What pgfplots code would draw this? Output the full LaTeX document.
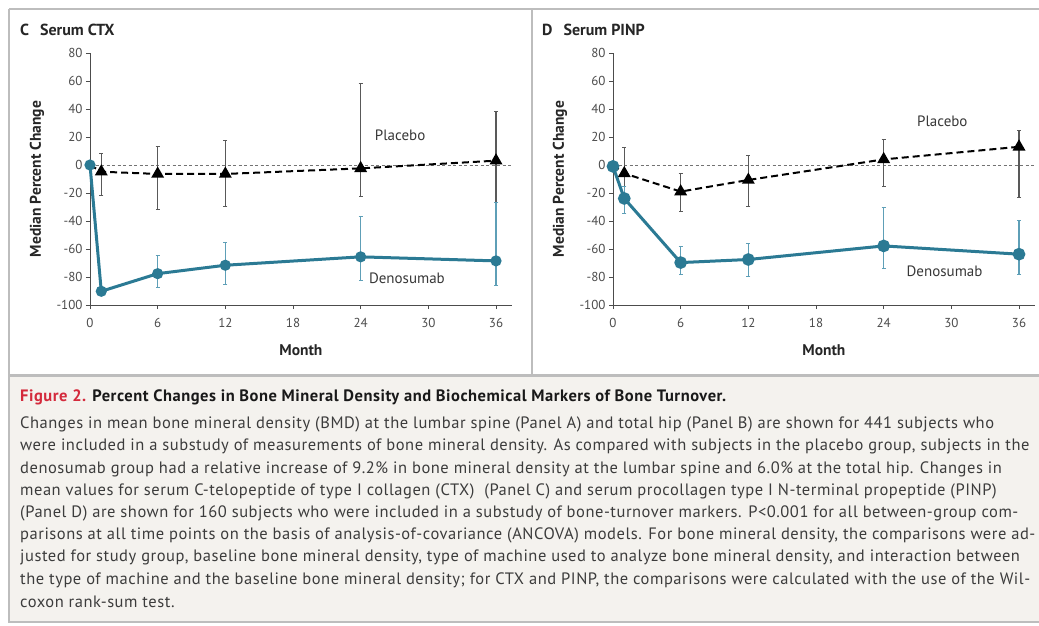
\documentclass[border=0pt]{standalone}
\usepackage{fontspec}
\setmainfont{PT Sans}
\newfontfamily\capfont[LetterSpace=3.2]{PT Sans}
\usepackage{pgfplots}
\pgfplotsset{compat=1.18}
\definecolor{denoc}{HTML}{2B7A94}
\definecolor{denoerr}{HTML}{5E9FB7}
\definecolor{framec}{HTML}{BDBDBD}
\definecolor{capbg}{HTML}{F4F2EE}
\definecolor{figred}{HTML}{D42A3C}
\definecolor{txt}{HTML}{3C3C3C}
\tikzset{lbl/.style={font=\fontsize{15}{15}\selectfont, text=black!78}}
\pgfplotsset{panel/.style={
  x=11.278pt, y=1.4pt, xmin=0, xmax=37.4, ymin=-100, ymax=80,
  anchor=south west, clip=false,
  axis x line*=bottom, axis y line*=left,
  axis line style={draw=black!70, line width=1pt},
  tick align=outside, major tick length=4pt,
  tick style={black!70, line width=0.8pt},
  xtick={0,6,...,36}, ytick={-100,-80,...,80},
  ticklabel style={font=\fontsize{13}{13}\selectfont, text=black!70},
  xticklabel style={yshift=-6pt},
  /pgf/number format/assume math mode=true,
  xlabel={Month}, ylabel={Median Percent Change},
  label style={font=\fontsize{15.5}{15.5}\selectfont\bfseries, text=black!85},
  xlabel style={at={([yshift=-45pt]axis description cs:0.5,0)}, anchor=center},
  ylabel style={at={([xshift=-53pt]axis description cs:0,0.5)}, anchor=center},
},
plac/.style={black, line width=2pt, dash pattern=on 7pt off 4pt,
  mark=triangle*, mark size=5.5pt, mark options={solid}, mark indices={2,3,4,5,6},
  error bars/y dir=both, error bars/y explicit,
  error bars/error bar style={black!65, line width=1.1pt, solid},
  error bars/error mark options={rotate=90, mark size=2pt, black!65, line width=0.8pt, solid}},
denos/.style={denoc, line width=3pt, mark=*, mark options={solid},
  error bars/y dir=both, error bars/y explicit,
  error bars/error bar style={denoerr, line width=1.3pt},
  error bars/error mark options={rotate=90, mark size=2pt, denoerr, line width=0.8pt}},
zl/.style={black!55, line width=0.7pt, dash pattern=on 3pt off 2.5pt}
}
\begin{document}
\begin{tikzpicture}
\useasboundingbox (0,0) rectangle (1039pt,-626pt);
\fill[white] (0,0) rectangle (1039pt,-626pt);
% caption box
\fill[capbg] (9pt,-375pt) rectangle (1039pt,-622pt);
\draw[framec, line width=3pt] (9pt,-375pt) -- (1039pt,-375pt);
\draw[framec, line width=2pt] (9pt,-622pt) -- (1039pt,-622pt);
% frame
\draw[framec, line width=2pt] (9pt,-9pt) -- (1039pt,-9pt);
\draw[framec, line width=2pt] (9pt,-9pt) -- (9pt,-623pt);
\draw[framec, line width=2pt] (532pt,-9pt) -- (532pt,-375pt);
% panel titles
\node[anchor=west, inner sep=0pt, font=\fontsize{16}{16}\selectfont\bfseries, text=black!85] at (20pt,-30pt) {C\hspace{11pt}Serum CTX};
\node[anchor=west, inner sep=0pt, font=\fontsize{16}{16}\selectfont\bfseries, text=black!85] at (542pt,-30pt) {D\hspace{11pt}Serum PINP};

% Panel C
\begin{axis}[panel, at={(90pt,-305pt)}]
\addplot[zl] coordinates {(0,0) (37.4,0)};
\addplot[plac] coordinates {
 (0,0) +- (0,0)
 (1,-4.8) += (0,13.2) -= (0,16.7)
 (6,-6.4) += (0,20) -= (0,25.3)
 (12,-6.4) += (0,24.3) -= (0,23.4)
 (24,-2.4) += (0,60.4) -= (0,20.3)
 (36,3.1) += (0,35.1) -= (0,30)
};
\addplot[denos, mark size=4pt] coordinates {
 (0,0) +- (0,0)
 (1,-90.2) += (0,1.5) -= (0,1.5)
 (6,-77.6) += (0,13.2) -= (0,10)
 (12,-71.6) += (0,16) -= (0,13.6)
 (24,-65.6) += (0,28.6) -= (0,16.7)
 (36,-68.5) += (0,41.5) -= (0,17.5)
};
\node[lbl] at (axis cs:27.5,21) {Placebo};
\node[lbl] at (axis cs:28.1,-81) {Denosumab};
\end{axis}

% Panel D
\begin{axis}[panel, at={(613pt,-305pt)}]
\addplot[zl] coordinates {(0,0) (37.4,0)};
\addplot[plac] coordinates {
 (0,0) +- (0,0)
 (1,-6) += (0,18.4) -= (0,9.5)
 (6,-19) += (0,13) -= (0,14.4)
 (12,-10.7) += (0,17.9) -= (0,19.1)
 (24,4) += (0,14.4) -= (0,19.5)
 (36,13) += (0,11.6) -= (0,36)
};
\addplot[denos, mark size=4.8pt] coordinates {
 (0,-1) +- (0,0)
 (1,-23.9) += (0,8.4) -= (0,10.7)
 (6,-69.7) += (0,11.9) -= (0,8.3)
 (12,-67.5) += (0,11.5) -= (0,12)
 (24,-57.8) += (0,27.3) -= (0,16.2)
 (36,-63.7) += (0,24.3) -= (0,14.3)
};
\node[lbl] at (axis cs:29.2,31) {Placebo};
\node[lbl] at (axis cs:29.4,-76) {Denosumab};
\end{axis}

% caption
\begin{scope}[every node/.style={anchor=west, inner sep=0pt, font=\capfont\fontsize{16.5}{16.5}\selectfont, text=txt}]
\node at (20pt,-397pt) {\bfseries\textcolor{figred}{Figure 2.} \textcolor{black!90}{Percent Changes in Bone Mineral Density and Biochemical Markers of Bone Turnover.}};
\node at (20pt,-424pt) {Changes in mean bone mineral density (BMD) at the lumbar spine (Panel A) and total hip (Panel B) are shown for 441 subjects who};
\node at (20pt,-446.5pt) {were included in a substudy of measurements of bone mineral density. As compared with subjects in the placebo group, subjects in the};
\node at (20pt,-469pt) {denosumab group had a relative increase of 9.2\% in bone mineral density at the lumbar spine and 6.0\% at the total hip. Changes in};
\node at (20pt,-491pt) {mean values for serum C-telopeptide of type I collagen (CTX)\ \ (Panel C) and serum procollagen type I N-terminal propeptide (PINP)};
\node at (20pt,-513pt) {(Panel D) are shown for 160 subjects who were included in a substudy of bone-turnover markers. P<0.001 for all between-group com-};
\node at (20pt,-535.5pt) {parisons at all time points on the basis of analysis-of-covariance (ANCOVA) models. For bone mineral density, the comparisons were ad-};
\node at (20pt,-557.5pt) {justed for study group, baseline bone mineral density, type of machine used to analyze bone mineral density, and interaction between};
\node at (20pt,-580pt) {the type of machine and the baseline bone mineral density; for CTX and PINP, the comparisons were calculated with the use of the Wil-};
\node at (20pt,-602pt) {coxon rank-sum test.};
\end{scope}
\end{tikzpicture}
\end{document}
